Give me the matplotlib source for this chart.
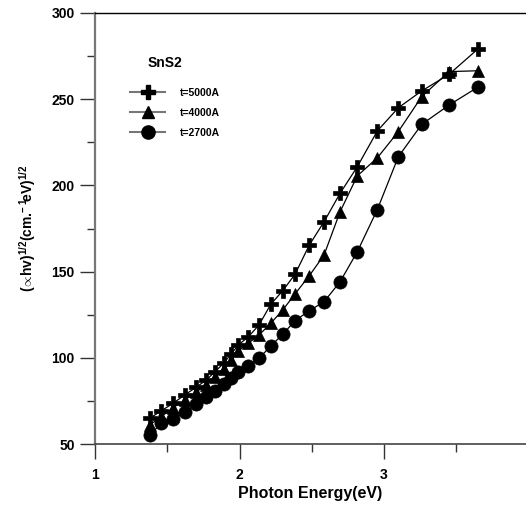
import matplotlib
matplotlib.use("Agg")
import matplotlib.pyplot as plt
from matplotlib.lines import Line2D
from matplotlib.ticker import MultipleLocator

plt.rcParams['font.family'] = ['Liberation Sans', 'DejaVu Sans']
plt.rcParams['font.weight'] = 'bold'
plt.rcParams['mathtext.fontset'] = 'custom'
plt.rcParams['mathtext.rm'] = 'Liberation Sans:bold'
plt.rcParams['mathtext.it'] = 'Liberation Sans:bold'
plt.rcParams['mathtext.bf'] = 'Liberation Sans:bold'

# photon energy (eV), shared by all three films
energy = [1.378, 1.46, 1.54, 1.62, 1.70, 1.77, 1.83, 1.89, 1.94, 1.992,
          2.061, 2.135, 2.216, 2.299, 2.384, 2.483, 2.585, 2.696, 2.815,
          2.954, 3.099, 3.261, 3.450, 3.648]

t5000 = [64.9, 69.3, 73.6, 78.4, 82.9, 87.1, 91.9, 96.8, 102.0, 107.4,
         112.2, 119.0, 131.0, 138.9, 148.4, 165.4, 178.9, 195.4, 210.8,
         231.6, 245.0, 254.8, 264.4, 279.0]
t4000 = [61.0, 66.0, 71.0, 75.5, 80.0, 84.5, 89.0, 93.5, 98.5, 104.0,
         108.4, 113.2, 120.0, 127.7, 137.0, 147.6, 159.6, 184.7, 205.5,
         216.0, 231.2, 251.5, 266.0, 266.5]
t2700 = [55.2, 62.0, 64.5, 68.5, 73.0, 77.0, 81.0, 85.0, 88.0, 91.5,
         95.5, 99.7, 106.8, 113.6, 121.5, 127.3, 132.5, 144.1, 161.5,
         186.0, 216.6, 235.4, 246.6, 256.9]

labels = ['t=5000A', 't=4000A', 't=2700A']
markers = ['P', '^', 'o']
sizes = [10.5, 8.5, 9.5]

fig = plt.figure(figsize=(5.26, 5.05), dpi=100)
ax = fig.add_axes([95/526, 61/505, 431/526, 431/505])

for ys, m, s in zip([t5000, t4000, t2700], markers, sizes):
    ax.plot(energy, ys, color='black', lw=0.9, marker=m, ms=s,
            mfc='black', mec='black', mew=0.5)

ax.set_xlim(1, 1 + 431/144.5)
ax.set_ylim(50, 300)
ax.xaxis.set_major_locator(MultipleLocator(1))
ax.xaxis.set_minor_locator(MultipleLocator(0.5))
ax.yaxis.set_major_locator(MultipleLocator(50))
ax.yaxis.set_minor_locator(MultipleLocator(25))
ax.tick_params(which='major', direction='out', length=10.5, width=1,
               labelsize=10, pad=4, color='#333333')
ax.tick_params(which='minor', direction='out', length=5.5, width=1,
               color='#333333')
ax.tick_params(axis='x', which='major', pad=7)

ax.spines['right'].set_visible(False)
ax.spines['left'].set_color('#777777')
ax.spines['left'].set_linewidth(1.6)
ax.spines['bottom'].set_color('#444444')
ax.spines['bottom'].set_linewidth(1.2)
ax.spines['top'].set_color('black')
ax.spines['top'].set_linewidth(1.0)

ax.set_xlabel('Photon Energy(eV)', fontsize=11.5, fontweight='bold', labelpad=3)
ax.set_ylabel(r'$(\!\propto\!hv)^{1/2}(cm.^{\!\!\!-1}\!eV)^{1/2}$', fontsize=10,
              labelpad=10)

ax.text(0.162, 0.884, 'SnS2', transform=ax.transAxes, fontsize=10,
        fontweight='bold', ha='center', va='center')
handles = [Line2D([], [], color='#777777', lw=1.5, marker=m, ms=s,
                  mfc='black', mec='black') for m, s in zip(markers, sizes)]
ax.legend(handles, labels, loc='upper left', bbox_to_anchor=(0.081, 0.826),
          frameon=False, fontsize=7.5, handlelength=3.4, labelspacing=0.95,
          handletextpad=1.4, borderpad=0, borderaxespad=0)

fig.savefig('out.png', dpi=100)
